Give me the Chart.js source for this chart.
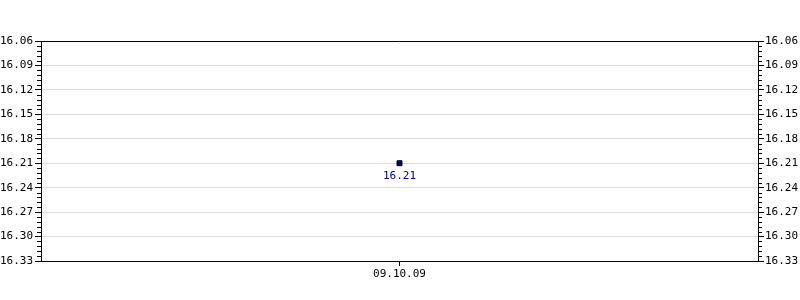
<!DOCTYPE html>
<html>
<head>
<meta charset="utf-8">
<script src="https://cdn.jsdelivr.net/npm/chart.js@4/dist/chart.umd.min.js"></script>
<style>
html,body{margin:0;padding:0;background:#fff;}
#wrap{width:800px;height:300px;position:relative;}
</style>
</head>
<body>
<div id="wrap"><canvas id="c" width="800" height="300"></canvas></div>
<script>
const categories = ['09.10.09'];
const values = [16.21];
const yMin = 16.06;
const yMax = 16.33;
const yStep = 0.03;
const minorPerMajor = 5;

Chart.defaults.font.family = 'DejaVu Sans Mono';
Chart.defaults.font.size = 11;
Chart.defaults.color = '#000';

const decor = {
  id: 'decor',
  afterDraw(chart) {
    const ctx = chart.ctx;
    const a = chart.chartArea;
    ctx.save();
    ['y', 'y2'].forEach(id => {
      const s = chart.scales[id];
      const n = Math.round((yMax - yMin) / yStep) * minorPerMajor;
      ctx.strokeStyle = '#000';
      ctx.lineWidth = 1;
      ctx.beginPath();
      for (let i = 0; i <= n; i++) {
        if (i % minorPerMajor === 0) continue;
        const v = yMin + (yMax - yMin) * i / n;
        const py = Math.round(s.getPixelForValue(v)) + 0.5;
        if (id === 'y') { ctx.moveTo(a.left - 4, py); ctx.lineTo(a.left, py); }
        else { ctx.moveTo(a.right, py); ctx.lineTo(a.right + 4, py); }
      }
      ctx.stroke();
    });
    ctx.strokeStyle = '#000';
    ctx.beginPath();
    ctx.moveTo(a.left, Math.round(a.top) + 0.5);
    ctx.lineTo(a.right, Math.round(a.top) + 0.5);
    ctx.moveTo(a.left, Math.round(a.bottom) + 0.5);
    ctx.lineTo(a.right, Math.round(a.bottom) + 0.5);
    ctx.stroke();
    const meta = chart.getDatasetMeta(0);
    ctx.fillStyle = '#000099';
    ctx.font = '11px "DejaVu Sans Mono"';
    ctx.textAlign = 'center';
    ctx.textBaseline = 'middle';
    meta.data.forEach((pt, i) => {
      ctx.fillText(values[i].toFixed(2), pt.x, pt.y + 13);
    });
    ctx.restore();
  }
};

new Chart(document.getElementById('c'), {
  type: 'line',
  data: {
    labels: categories,
    datasets: [{
      data: values,
      borderColor: '#000',
      backgroundColor: '#000080',
      pointStyle: 'rect',
      pointRadius: 3.5,
      pointBorderWidth: 1,
      pointBorderColor: '#000',
      pointBackgroundColor: '#000080',
      showLine: false,
      yAxisID: 'y'
    }]
  },
  options: {
    responsive: false,
    animation: false,
    events: [],
    layout: { padding: { top: 41, left: 0, right: 0, bottom: 0 } },
    plugins: { legend: { display: false }, tooltip: { enabled: false } },
    scales: {
      x: {
        type: 'category',
        offset: true,
        grid: { drawOnChartArea: false, offset: false, tickLength: 5, color: '#000' },
        border: { color: '#000' },
        ticks: { padding: 2, color: '#000', maxRotation: 0 },
        afterFit(s) { s.height = 39; }
      },
      y: {
        position: 'left',
        reverse: true,
        min: yMin, max: yMax,
        grid: { color: '#dcdcdc', tickColor: '#000', tickLength: 6 },
        border: { color: '#000' },
        ticks: { stepSize: yStep, padding: 2, callback: v => Number(v).toFixed(2) },
        afterFit(s) { s.width = 41; }
      },
      y2: {
        position: 'right',
        reverse: true,
        min: yMin, max: yMax,
        grid: { drawOnChartArea: false, tickColor: '#000', tickLength: 6 },
        border: { color: '#000' },
        ticks: { stepSize: yStep, padding: 1, callback: v => Number(v).toFixed(2) },
        afterFit(s) { s.width = 42; }
      }
    }
  },
  plugins: [decor]
});
</script>
</body>
</html>
